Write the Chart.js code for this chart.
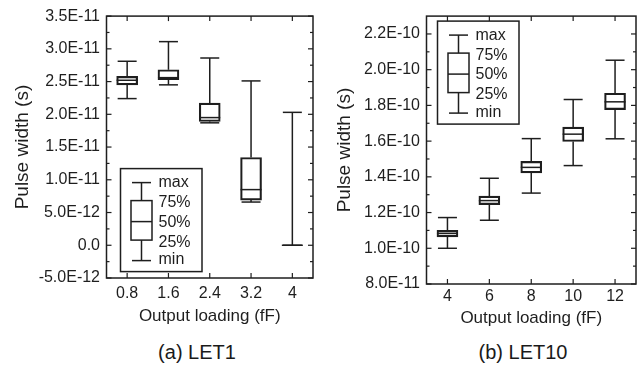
<!DOCTYPE html>
<html>
<head>
<meta charset="utf-8">
<script src="https://cdn.jsdelivr.net/npm/chart.js@4.4.1/dist/chart.umd.min.js"></script>
<style>
  body { margin: 0; background: #fff; width: 641px; height: 366px; position: relative; overflow: hidden; font-family: "Liberation Sans", Arial, sans-serif; }
  #chartA { position: absolute; left: 0; top: 0; }
  #chartB { position: absolute; left: 320px; top: 0; }
  .cap { position: absolute; top: 340px; width: 200px; text-align: center; font-size: 20px; line-height: 24px; color: #1a1a1a; }
</style>
</head>
<body>
<canvas id="chartA" width="320" height="330"></canvas>
<canvas id="chartB" width="321" height="330"></canvas>
<div class="cap" style="left:97px">(a) LET1</div>
<div class="cap" style="left:423px">(b) LET10</div>
<script>
// (a) LET1
const loadA = [0.8, 1.6, 2.4, 3.2, 4];
const minA = [22.4e-12, 24.5e-12, 18.7e-12, 6.6e-12, 0];
const q1A = [24.5e-12, 25.3e-12, 18.9e-12, 6.9e-12, 0];
const medA = [25.2e-12, 25.6e-12, 19.5e-12, 8.5e-12, 0];
const q3A = [25.8e-12, 26.8e-12, 21.7e-12, 13.4e-12, 0];
const maxA = [28.1e-12, 31.1e-12, 28.6e-12, 25.1e-12, 20.3e-12];
const yTicksA = [-5e-12, 0, 5e-12, 1e-11, 1.5e-11, 2e-11, 2.5e-11, 3e-11, 3.5e-11];

// (b) LET10
const loadB = [4, 6, 8, 10, 12];
const minB = [1.0e-10, 1.157e-10, 1.309e-10, 1.463e-10, 1.613e-10];
const q1B = [1.064e-10, 1.244e-10, 1.422e-10, 1.598e-10, 1.776e-10];
const medB = [1.083e-10, 1.267e-10, 1.453e-10, 1.639e-10, 1.82e-10];
const q3B = [1.1e-10, 1.292e-10, 1.487e-10, 1.678e-10, 1.868e-10];
const maxB = [1.172e-10, 1.392e-10, 1.614e-10, 1.833e-10, 2.053e-10];
const yTicksB = [8e-11, 1e-10, 1.2e-10, 1.4e-10, 1.6e-10, 1.8e-10, 2e-10, 2.2e-10];

const legendRows = ["max", "75%", "50%", "25%", "min"];

const ink = "#1e1e1e";
Chart.defaults.font.family = '"Liberation Sans", Arial, sans-serif';
Chart.defaults.color = ink;

function fmtY(v) {
  if (Math.abs(v) < 1e-20) return "0.0";
  return v.toExponential(1).toUpperCase();
}

function line(ctx, x1, y1, x2, y2) {
  ctx.beginPath();
  ctx.moveTo(x1, y1);
  ctx.lineTo(x2, y2);
  ctx.stroke();
}

function drawLegend(ctx, lx, ly) {
  ctx.strokeRect(lx, ly, 81.5, 103);
  const cx = lx + 21;
  line(ctx, cx, ly + 14, cx, ly + 32);
  line(ctx, cx, ly + 71.5, cx, ly + 92);
  line(ctx, cx - 9.5, ly + 14, cx + 9.5, ly + 14);
  line(ctx, cx - 9.5, ly + 92, cx + 9.5, ly + 92);
  ctx.strokeRect(cx - 10.5, ly + 32, 21, 39.5);
  line(ctx, cx - 10.5, ly + 53, cx + 10.5, ly + 53);
  ctx.fillStyle = ink;
  ctx.font = '16px "Liberation Sans", Arial, sans-serif';
  ctx.textAlign = "left";
  ctx.textBaseline = "middle";
  [14, 34, 53.5, 73.5, 91].forEach((dy, i) => ctx.fillText(legendRows[i], lx + 38, ly + dy));
}

function boxChart(id, cats, mins, q1s, meds, q3s, maxs, yTicks, cfg) {
  const boxPlugin = {
    id: "boxes",
    afterDatasetsDraw(chart) {
      const { ctx, chartArea: a, scales: { x, y } } = chart;
      ctx.save();
      ctx.strokeStyle = ink;
      ctx.lineWidth = 1.5;
      // whiskers, caps and medians
      cats.forEach((c, i) => {
        const px = x.getPixelForValue(c);
        line(ctx, px, y.getPixelForValue(q3s[i]), px, y.getPixelForValue(maxs[i]));
        line(ctx, px, y.getPixelForValue(q1s[i]), px, y.getPixelForValue(mins[i]));
        line(ctx, px - 9.5, y.getPixelForValue(maxs[i]), px + 9.5, y.getPixelForValue(maxs[i]));
        line(ctx, px - 9.5, y.getPixelForValue(mins[i]), px + 9.5, y.getPixelForValue(mins[i]));
        line(ctx, px - 10.5, y.getPixelForValue(meds[i]), px + 10.5, y.getPixelForValue(meds[i]));
      });
      // frame with inward ticks
      ctx.strokeRect(a.left, a.top, a.right - a.left, a.bottom - a.top);
      ctx.lineWidth = 1.2;
      yTicks.forEach((v, i) => {
        const py = y.getPixelForValue(v);
        line(ctx, a.left, py, a.left + 5, py);
        line(ctx, a.right, py, a.right - 5, py);
        if (i < yTicks.length - 1) {
          const pm = y.getPixelForValue((v + yTicks[i + 1]) / 2);
          line(ctx, a.left, pm, a.left + 3, pm);
          line(ctx, a.right, pm, a.right - 3, pm);
        }
      });
      cats.forEach(c => {
        const px = x.getPixelForValue(c);
        line(ctx, px, a.bottom, px, a.bottom - 5);
        line(ctx, px, a.top, px, a.top + 5);
      });
      ctx.lineWidth = 1.5;
      drawLegend(ctx, a.left + cfg.legX, a.top + cfg.legY);
      ctx.restore();
    }
  };

  return new Chart(document.getElementById(id), {
    type: "bar",
    data: {
      datasets: [{
        data: cats.map((c, i) => ({ x: c, y: [q1s[i], q3s[i]] })),
        backgroundColor: "rgba(0,0,0,0)",
        borderColor: ink,
        borderWidth: 1.5,
        borderSkipped: false,
        barThickness: 21
      }]
    },
    options: {
      responsive: false,
      animation: false,
      events: [],
      layout: { padding: { top: cfg.top, right: cfg.right, left: 0, bottom: 0 } },
      plugins: { legend: { display: false }, tooltip: { enabled: false } },
      scales: {
        x: {
          type: "linear",
          offset: false,
          min: cfg.xMin,
          max: cfg.xMax,
          afterBuildTicks: s => { s.ticks = cats.map(v => ({ value: v })); },
          afterFit: s => { s.height = cfg.xh; },
          ticks: { autoSkip: false, maxRotation: 0, padding: cfg.xPad, font: { size: 16 }, callback: v => String(v) },
          grid: { display: false, drawTicks: false, tickLength: 0 },
          border: { display: false },
          title: { display: true, text: "Output loading (fF)", font: { size: 17 }, padding: { top: 0, bottom: cfg.xtp } }
        },
        y: {
          min: yTicks[0],
          max: cfg.yMax,
          afterBuildTicks: s => { s.ticks = yTicks.map(v => ({ value: v })); },
          afterFit: s => { s.width = cfg.yw; },
          ticks: { autoSkip: false, padding: 6.5, font: { size: 16 }, callback: fmtY },
          grid: { display: false, drawTicks: false, tickLength: 0 },
          border: { display: false },
          title: { display: true, text: "Pulse width (s)", font: { size: 19 }, padding: { top: cfg.ytp, bottom: 0 } }
        }
      }
    },
    plugins: [boxPlugin]
  });
}

boxChart("chartA", loadA, minA, q1A, medA, q3A, maxA, yTicksA, {
  xMin: 0.4, xMax: 4.4, yMax: 3.5e-11, top: 13.5, right: 7, xh: 52, yw: 106.5,
  xPad: 6.4, xtp: 3, ytp: 11, legX: 14, legY: 152.5
});
boxChart("chartB", loadB, minB, q1B, medB, q3B, maxB, yTicksB, {
  xMin: 3, xMax: 13, yMax: 2.3e-10, top: 14, right: 5, xh: 46, yw: 106.5,
  xPad: 3, xtp: 1.5, ytp: 13.6, legX: 11, legY: 5
});
</script>
</body>
</html>
